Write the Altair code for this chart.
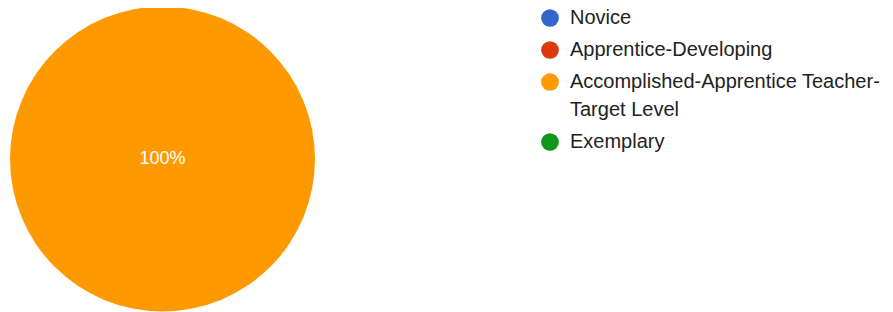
import altair as alt
import pandas as pd

categories = ["Novice", "Apprentice-Developing",
              "Accomplished-Apprentice Teacher-Target Level", "Exemplary"]
counts = [0, 0, 1, 0]
colors = ["#3366CC", "#DC3912", "#FF9900", "#109618"]

df = pd.DataFrame({"category": categories, "count": counts,
                   "order": list(range(len(categories)))})

color = alt.Color(
    "category:N",
    scale=alt.Scale(domain=categories, range=colors),
    sort=categories,
    legend=alt.Legend(
        title=None, orient="none", legendX=530, legendY=1.5,
        symbolType="circle", symbolSize=314, symbolStrokeWidth=0,
        symbolOpacity=1,
        labelFont="Liberation Sans", labelFontSize=20, labelColor="#222222",
        labelOffset=10, rowPadding=12, padding=0, labelLimit=400,
        labelExpr="datum.label == 'Accomplished-Apprentice Teacher-Target Level' ? ['Accomplished-Apprentice Teacher-', 'Target Level'] : datum.label",
        labelBaseline="middle",
    ),
)

base = alt.Chart(df).transform_joinaggregate(total="sum(count)").transform_calculate(
    pct="datum.count / datum.total"
)

pie = base.mark_arc(stroke=None).encode(
    theta=alt.Theta("count:Q", stack=True),
    color=color,
    order=alt.Order("order:Q"),
)

label = base.transform_filter("datum.count > 0").mark_text(
    font="Liberation Sans", fontSize=18, color="white"
).encode(text=alt.Text("pct:Q", format=".0%"))

chart = alt.layer(pie, label).properties(
    width=305, height=305,
    padding={"left": 2, "top": -1.5, "right": 0, "bottom": 0},
).configure_view(stroke=None).configure(
    style={"guide-label": {"lineHeight": 28}}
)

chart.save("out.html", embed_options={"renderer": "svg", "actions": False})
